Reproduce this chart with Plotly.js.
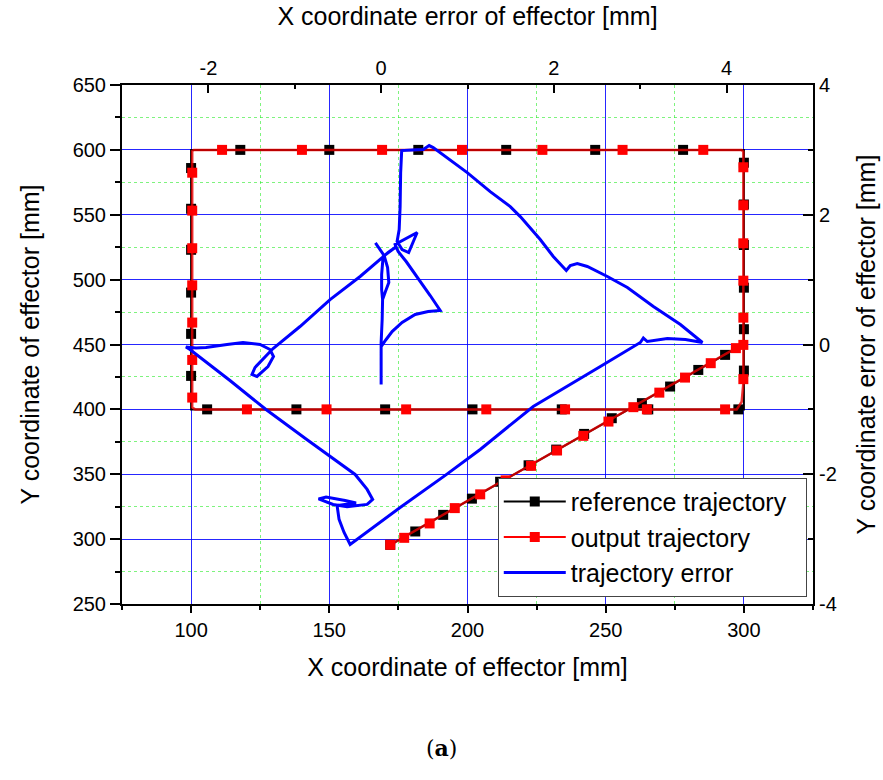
<!DOCTYPE html>
<html>
<head>
<meta charset="utf-8">
<script src="https://cdn.plot.ly/plotly-3.0.1.min.js"></script>
<style>html,body{margin:0;padding:0;background:#fff;}#chart{width:883px;height:780px;}</style>
</head>
<body>
<div id="chart"></div>
<script>
// ---- reference trajectory (mm) ----
var refPathX = [172.05, 300, 300, 100, 100, 300, 300];
var refPathY = [295.6, 450.4, 600, 600, 400, 400, 450.4];
var refMarkX = [172.05, 181.1, 191.2, 201.6, 211.8, 222.1, 232.1, 242.2, 252.2, 263.1, 273.3, 283.5, 293.2,
  300, 300, 300, 300, 300,
  278.0, 246.2, 214.0, 182.2, 150.0, 117.8,
  100, 100, 100, 100, 100, 100,
  105.8, 138.1, 170.2, 201.8, 234.1, 265.4, 298.0,
  300];
var refMarkY = [295.6, 305.9, 318.7, 331.2, 344.2, 356.9, 369.0, 381.1, 393.2, 404.8, 417.6, 430.4, 442.0,
  461.8, 493.8, 526.7, 557.9, 590.1,
  600, 600, 600, 600, 600, 600,
  586.0, 554.6, 523.0, 490.0, 458.2, 425.8,
  400, 400, 400, 400, 400, 400, 400,
  429.9];

// ---- output trajectory (mm) ----
var outPathX = [172.05, 297.1, 299.8, 299.8, 299.2, 101.0, 100.4, 100.4, 101.5, 297.4, 299.2, 299.8, 299.8];
var outPathY = [295.6, 447.2, 449.7, 598.5, 600, 600, 599, 401.5, 400, 400, 405.9, 420.2, 449.7];
var outMarkX = [172.05, 177.1, 186.3, 195.4, 204.6, 213.8, 223.0, 232.4, 241.9, 251.0, 260.0, 269.4, 278.7, 288.0, 297.1,
  299.8, 299.8, 299.8, 299.8, 299.8, 299.8,
  285.3, 256.1, 227.1, 198.0, 169.1, 140.1, 111.2,
  100.4, 100.4, 100.4, 100.4, 100.4, 100.4, 100.4,
  120.2, 149.0, 177.8, 206.8, 235.3, 264.9, 293.2,
  299.8];
var outMarkY = [295.6, 301.0, 312.1, 323.9, 334.5, 345.3, 356.5, 368.3, 379.6, 390.6, 401.7, 412.9, 424.5, 435.6, 447.2,
  449.7, 470.7, 499.2, 528.0, 557.3, 586.6,
  600, 600, 600, 600, 600, 600, 600,
  582.4, 553.2, 524.2, 495.6, 466.9, 438.1, 409.1,
  400, 400, 400, 400, 400, 400, 400,
  423.3];

// ---- trajectory error (mm) ----
var errX = [-0.066,-0.023,0.035,0.075,0.089,0.050,0.017,0.012,0,0,0,0,0,
  0.058,0.127,0.243,0.394,0.545,0.684,
  0.568,0.429,0.290,0.197,
  0.162,0.417,0.319,0.243,0.185,
  0.209,0.220,0.226,0.238,
  0.359,0.487,0.556,0.603,
  0.997,1.263,1.495,1.611,1.842,1.993,2.144,2.190,2.271,2.387,2.619,2.851,3.152,3.465,3.720,
  3.523,3.314,3.082,3.036,3.001,
  2.538,1.761,1.147,0.742,0.220,-0.359,
  -0.429,-0.487,-0.510,-0.290,-0.417,-0.637,-0.724,-0.556,-0.394,-0.162,-0.098,
  -0.162,-0.301,-0.591,-0.861,-1.333,-1.750,-2.213,
  -2.260,-2.144,-2.028,
  -1.784,-1.599,-1.402,-1.286,-1.246,-1.310,-1.437,-1.495,-1.460,-1.367,-1.251,
  -0.939,-0.591,-0.243,0.012,0.081,0.162,
  0.081,0.023,0.006,0.006,0.017];
var errY = [1.567,1.479,1.371,1.186,0.955,0.817,0.693,0.385,0.031,-0.308,-0.616,-0.308,-0.031,
  0.077,0.200,0.339,0.462,0.508,0.524,
  0.755,1.017,1.279,1.433,
  1.541,1.726,1.418,1.464,1.587,
  1.772,2.126,2.650,2.989,
  2.997,3.005,3.066,3.035,
  2.650,2.357,2.126,1.972,1.618,1.356,1.140,1.217,1.248,1.202,1.048,0.878,0.586,0.308,0.031,
  0.077,0.092,0.046,0.100,0.031,
  -0.339,-0.955,-1.618,-2.018,-2.512,-3.082,
  -2.897,-2.696,-2.481,-2.442,-2.404,-2.350,-2.381,-2.465,-2.501,-2.465,-2.388,
  -2.234,-2.003,-1.726,-1.464,-1.002,-0.555,-0.077,
  -0.039,-0.054,-0.046,
  0,0.031,0,-0.077,-0.185,-0.339,-0.493,-0.462,-0.354,-0.231,-0.062,
  0.277,0.693,1.048,1.341,1.418,1.495,
  1.418,1.356,1.079,0.847,0.693];

// ---- tick labels of the error axes (plain hyphen minus, as in the original) ----
var topTickVals = [-2, 0, 2, 4];
var topTickText = ['-2', '0', '2', '4'];
var rightTickVals = [-4, -2, 0, 2, 4];
var rightTickText = ['-4', '-2', '0', '2', '4'];

// isolate marker points so the legend keeps a line+marker sample without joining them
function isolate(a) {
  var r = [];
  for (var i = 0; i < a.length; i++) { r.push(a[i]); r.push(null); }
  return r;
}

var FONT = 'Liberation Sans, Arial, sans-serif';
var GRID = 'rgba(0,0,255,0.85)';
var MINOR = 'rgba(40,235,40,0.6)';

var traces = [
  {x: refPathX, y: refPathY, type: 'scatter', mode: 'lines', line: {color: '#000', width: 2},
   showlegend: false, legendgroup: 'ref', hoverinfo: 'skip'},
  {x: isolate(refMarkX), y: isolate(refMarkY), type: 'scatter', mode: 'lines+markers', connectgaps: false,
   name: 'reference trajectory\u00a0\u00a0', legendgroup: 'ref',
   line: {color: '#000', width: 2}, marker: {symbol: 'square', size: 10, color: '#000'}},
  {x: outPathX, y: outPathY, type: 'scatter', mode: 'lines', line: {color: 'rgba(235,0,0,0.8)', width: 2.5},
   showlegend: false, legendgroup: 'out', hoverinfo: 'skip'},
  {x: isolate(outMarkX), y: isolate(outMarkY), type: 'scatter', mode: 'lines+markers', connectgaps: false,
   name: 'output trajectory', legendgroup: 'out',
   line: {color: '#ff0000', width: 2}, marker: {symbol: 'square', size: 10, color: '#ff0000'}},
  {x: errX, y: errY, xaxis: 'x2', yaxis: 'y2', type: 'scatter', mode: 'lines',
   name: 'trajectory error', line: {color: '#0000ff', width: 3}}
];

var layout = {
  width: 883, height: 780,
  margin: {l: 122, r: 70, t: 85, b: 176, pad: 0},
  paper_bgcolor: '#fff', plot_bgcolor: '#fff',
  font: {family: FONT, color: '#000', size: 20},
  showlegend: true,
  xaxis: {
    range: [75, 325], tick0: 0, dtick: 50, ticks: 'outside', ticklen: 7, tickwidth: 2, tickcolor: '#000',
    showline: true, linecolor: '#000', linewidth: 2, zeroline: false,
    showgrid: true, gridcolor: GRID, gridwidth: 1,
    minor: {dtick: 25, tick0: 0, ticks: 'outside', ticklen: 4, tickwidth: 2, tickcolor: '#000',
            showgrid: true, gridcolor: MINOR, griddash: 'dot', gridwidth: 1},
    tickfont: {size: 20, family: FONT},
    title: {text: 'X coordinate of effector [mm]', font: {size: 25, family: FONT}, standoff: 18}
  },
  yaxis: {
    range: [250, 650], tick0: 0, dtick: 50, ticks: 'outside', ticklen: 10, tickwidth: 2, tickcolor: '#000',
    showline: true, linecolor: '#000', linewidth: 2, zeroline: false,
    showgrid: true, gridcolor: GRID, gridwidth: 1,
    minor: {dtick: 25, tick0: 0, ticks: 'outside', ticklen: 5, tickwidth: 2, tickcolor: '#000',
            showgrid: true, gridcolor: MINOR, griddash: 'dot', gridwidth: 1},
    tickfont: {size: 20, family: FONT},
    title: {text: 'Y coordinate of effector [mm]', font: {size: 25, family: FONT}, standoff: 26}
  },
  xaxis2: {
    overlaying: 'x', side: 'top', anchor: 'y',
    range: [-3, 5], tickmode: 'array', tickvals: topTickVals, ticktext: topTickText,
    ticks: 'inside', ticklen: 8, tickwidth: 2, tickcolor: '#000',
    showline: true, linecolor: '#000', linewidth: 2, zeroline: false, showgrid: false,
    minor: {tickmode: 'linear', dtick: 1, tick0: 0, ticks: 'inside', ticklen: 4, tickwidth: 2, tickcolor: '#000', showgrid: false},
    tickfont: {size: 20, family: FONT},
    title: {text: 'X coordinate error of effector [mm]', font: {size: 25, family: FONT}, standoff: 24}
  },
  yaxis2: {
    overlaying: 'y', side: 'right', anchor: 'x',
    range: [-4, 4], tickmode: 'array', tickvals: rightTickVals, ticktext: rightTickText,
    ticks: 'inside', ticklen: 10, tickwidth: 2, tickcolor: '#000',
    showline: true, linecolor: '#000', linewidth: 2, zeroline: false, showgrid: false,
    minor: {tickmode: 'linear', dtick: 1, tick0: 0, ticks: 'inside', ticklen: 5, tickwidth: 2, tickcolor: '#000', showgrid: false},
    tickfont: {size: 20, family: FONT},
    title: {text: 'Y coordinate error of effector [mm]', font: {size: 25, family: FONT}, standoff: 22}
  },
  legend: {
    x: 0.991, y: 0.014, xanchor: 'right', yanchor: 'bottom',
    bgcolor: '#fff', bordercolor: '#444', borderwidth: 1,
    font: {size: 25, family: FONT}, itemwidth: 62, tracegroupgap: 0
  },
  annotations: [{
    xref: 'paper', yref: 'paper', x: 0.4617, y: -0.2767, xanchor: 'center', yanchor: 'middle',
    showarrow: false, text: '(<b>a</b>)', font: {size: 22, family: 'DejaVu Serif, Liberation Serif, serif'}
  }]
};

Plotly.newPlot('chart', traces, layout, {displayModeBar: false, staticPlot: true});
</script>
</body>
</html>
